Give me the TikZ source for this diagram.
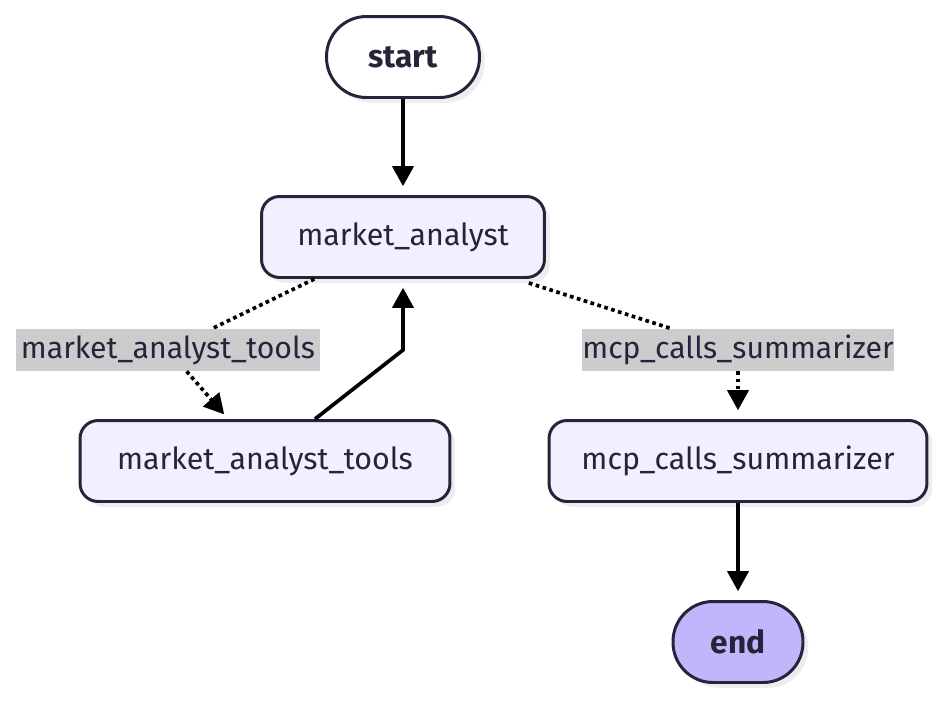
\documentclass[tikz,border=0pt]{standalone}
\usepackage{fontspec}
\setmainfont{Fira Sans}
\usetikzlibrary{arrows.meta,shadows,calc}
\definecolor{ink}{HTML}{27233A}
\definecolor{nodebg}{HTML}{F2F0FF}
\definecolor{endbg}{HTML}{BFB6FC}
\definecolor{lblbg}{HTML}{CCCCCC}
\tikzset{
  box/.style={draw=ink, line width=1.7pt, fill=nodebg, text=ink, rounded corners=0.36cm,
    minimum height=1.62cm, font=\fontsize{17.3}{20}\selectfont,
    drop shadow={shadow xshift=3pt, shadow yshift=-3pt, fill=black!7, opacity=1}},
  term/.style={box, rounded corners=0.8cm, font=\fontsize{18}{20}\selectfont\bfseries},
  lbl/.style={fill=lblbg, text=ink, inner sep=0pt, minimum height=0.84cm,
    font=\fontsize{17.2}{20}\selectfont},
  solidedge/.style={line width=2.1pt, -{Triangle[length=0.4cm,width=0.42cm]}, shorten >=5pt},
  dotedge/.style={line width=2.1pt, dotted},
}
\begin{document}
\begin{tikzpicture}[x=0.02cm, y=-0.02cm]
\useasboundingbox (0,0) rectangle (943,700);
\node[term, fill=white, minimum width=3.06cm] (start) at (403,57) {start};
\node[box, minimum width=5.66cm] (ma) at (403,237) {market\_analyst};
\node[box, minimum width=7.4cm] (mat) at (265,461) {market\_analyst\_tools};
\node[box, minimum width=7.56cm] (mcp) at (738,461) {mcp\_calls\_summarizer};
\node[term, fill=endbg, minimum width=2.6cm] (end) at (738,642) {end};
\node[lbl, minimum width=6.1cm] (l1) at (168,350) {market\_analyst\_tools};
\node[lbl, minimum width=6.26cm] (l2) at (738,350) {mcp\_calls\_summarizer};
\coordinate (ma1) at ($(ma.south west)!0.19!(ma.south east)$);
\coordinate (ma2) at ($(ma.south west)!0.94!(ma.south east)+(0,4)$);
\coordinate (t1) at (230,421);
\coordinate (bend) at (403,350);
\draw[solidedge] (start) -- (ma);
\draw[dotedge] (ma1) -- (l1);
\draw[dotedge, -{Triangle[length=0.4cm,width=0.42cm]}, shorten >=5pt] (l1) -- (t1);
\draw[line width=2.1pt, -{Triangle[length=0.4cm,width=0.42cm]}, shorten >=5pt]
  ($(mat.north)+(50,0)$) -- (bend) -- (ma.south);
\draw[dotedge] (ma2) -- (l2);
\draw[dotedge, -{Triangle[length=0.4cm,width=0.42cm]}, shorten >=5pt] (l2) -- (mcp);
\draw[solidedge] (mcp) -- (end);
\end{tikzpicture}
\end{document}
